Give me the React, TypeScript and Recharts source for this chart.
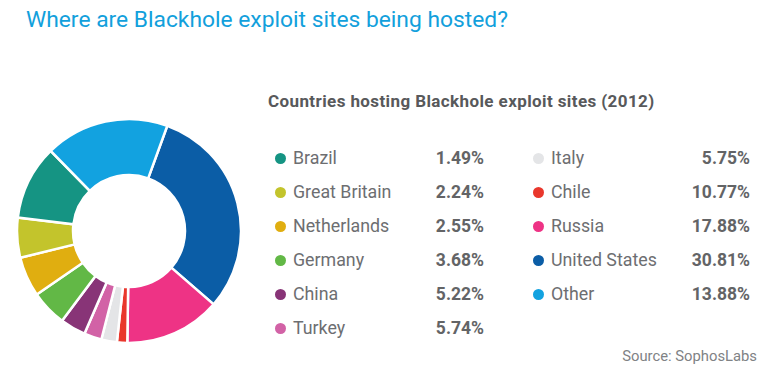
import React from "react";
import { PieChart, Pie, Cell } from "recharts";

// Legend (as printed)
const countries = [
  "Brazil",
  "Great Britain",
  "Netherlands",
  "Germany",
  "China",
  "Turkey",
  "Italy",
  "Chile",
  "Russia",
  "United States",
  "Other",
];
const percents = [1.49, 2.24, 2.55, 3.68, 5.22, 5.74, 5.75, 10.77, 17.88, 30.81, 13.88];

// Slices as drawn, clockwise from the top-right
const sliceNames = [
  "United States",
  "Russia",
  "Chile",
  "Italy",
  "Turkey",
  "China",
  "Germany",
  "Netherlands",
  "Great Britain",
  "Brazil",
  "Other",
];
const sliceValues = [30.81, 13.88, 1.49, 2.24, 2.55, 3.68, 5.22, 5.74, 5.75, 10.77, 17.88];

const colors: Record<string, string> = {
  Brazil: "#159483",
  "Great Britain": "#c3c42c",
  Netherlands: "#e0ae10",
  Germany: "#62b846",
  China: "#883477",
  Turkey: "#d262a6",
  Italy: "#e4e5e7",
  Chile: "#e9372c",
  Russia: "#ee3385",
  "United States": "#0b5da6",
  Other: "#12a2e0",
};

const font = "Roboto, 'DejaVu Sans', sans-serif";

export default function App() {
  const data = sliceNames.map((name, i) => ({ name, value: sliceValues[i] }));
  const startAngle = 70;

  const legendRow = (i: number, col: number, row: number) => {
    const left = col === 0 ? 272 : 530;
    const valueRight = col === 0 ? 484 : 750;
    const top = 158 + row * 34;
    return (
      <React.Fragment key={countries[i]}>
        <div
          style={{
            position: "absolute",
            left: left + 3,
            top: top - 5,
            width: 11,
            height: 11,
            borderRadius: "50%",
            background: colors[countries[i]],
          }}
        />
        <div
          style={{
            position: "absolute",
            left: left + 21,
            top: top - 11,
            fontSize: 17.8,
            lineHeight: "22px",
            color: "#6d6e71",
            whiteSpace: "nowrap",
          }}
        >
          {countries[i]}
        </div>
        <div
          style={{
            position: "absolute",
            left: valueRight - 100,
            width: 100,
            textAlign: "right",
            top: top - 11,
            fontSize: 17.5,
            lineHeight: "22px",
            fontWeight: 700,
            color: "#636466",
          }}
        >
          {percents[i].toFixed(2)}%
        </div>
      </React.Fragment>
    );
  };

  return (
    <div
      style={{
        position: "absolute",
        left: 0,
        top: 0,
        width: 768,
        height: 376,
        background: "#fff",
        fontFamily: font,
        overflow: "hidden",
      }}
    >
      <div
        style={{
          position: "absolute",
          left: 26,
          top: 6,
          fontSize: 22.8,
          lineHeight: "28px",
          color: "#12a0dc",
          whiteSpace: "nowrap",
        }}
      >
        Where are Blackhole exploit sites being hosted?
      </div>

      <PieChart width={260} height={376} style={{ position: "absolute", left: 0, top: 0 }}>
        <Pie
          data={data}
          dataKey="value"
          cx={124}
          cy={226}
          innerRadius={56}
          outerRadius={112}
          startAngle={startAngle}
          endAngle={startAngle - 360}
          stroke="#ffffff"
          strokeWidth={2.5}
          isAnimationActive={false}
        >
          {data.map((d) => (
            <Cell key={d.name} fill={colors[d.name]} />
          ))}
        </Pie>
      </PieChart>

      <div
        style={{
          position: "absolute",
          left: 268,
          top: 90,
          fontSize: 17,
          letterSpacing: 0.4,
          lineHeight: "22px",
          fontWeight: 700,
          color: "#58595b",
          whiteSpace: "nowrap",
        }}
      >
        Countries hosting Blackhole exploit sites (2012)
      </div>

      {countries.slice(0, 6).map((_, r) => legendRow(r, 0, r))}
      {countries.slice(6).map((_, r) => legendRow(r + 6, 1, r))}

      <div
        style={{
          position: "absolute",
          right: 11,
          top: 346,
          fontSize: 14.8,
          lineHeight: "20px",
          color: "#808285",
          whiteSpace: "nowrap",
        }}
      >
        Source: SophosLabs
      </div>
    </div>
  );
}
